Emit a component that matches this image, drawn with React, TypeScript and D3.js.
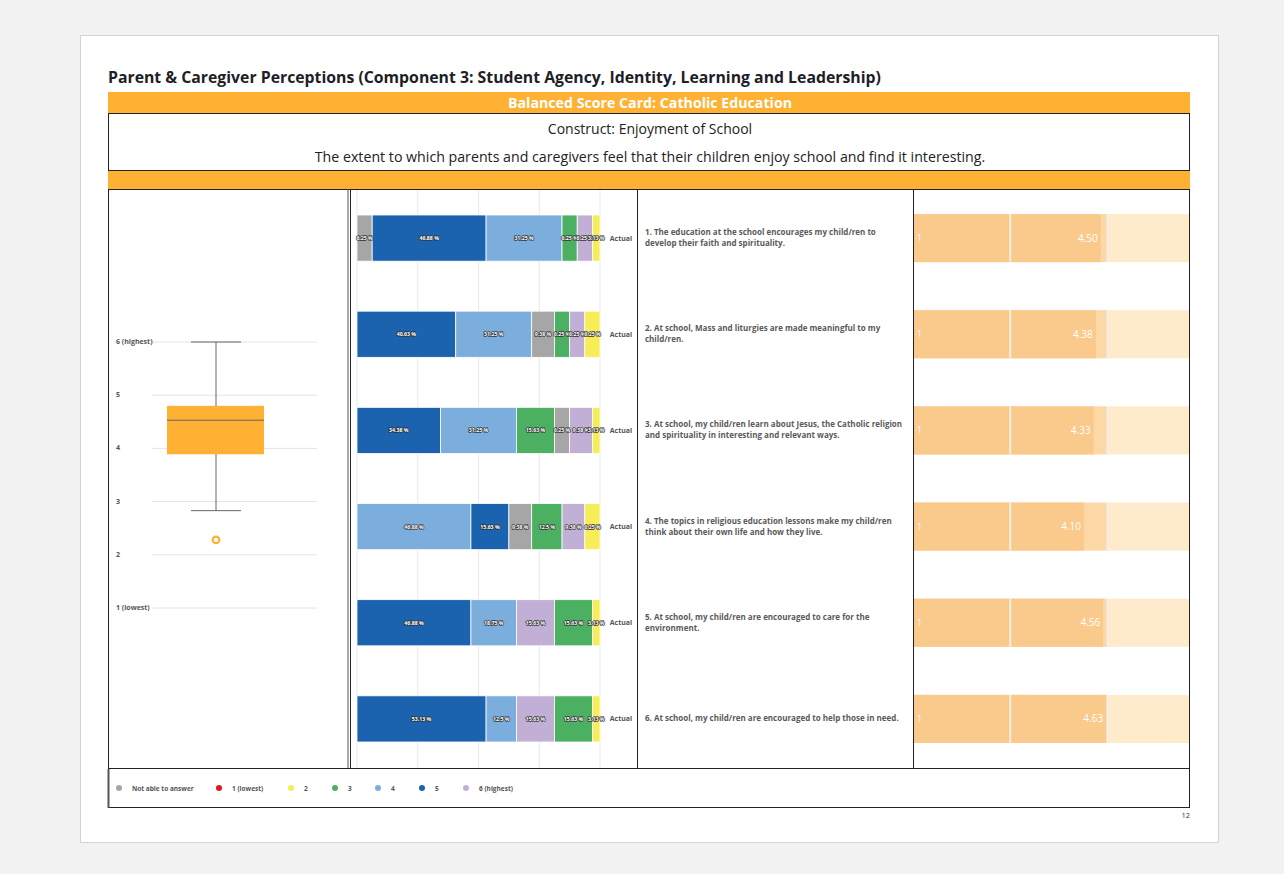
import React from "react";
import * as d3 from "d3";

// response categories (legend order)
const categories = ["Not able to answer", "1 (lowest)", "2", "3", "4", "5", "6 (highest)"];
const catColors = ["#A6A6A6", "#E3151E", "#F7ED57", "#4CB062", "#7BAEDD", "#1B63AE", "#C1AFD6"];

// percentages per question, one array per category
const notAble = [6.25, 9.38, 6.25, 9.38, 0, 0];
const lowest = [0, 0, 0, 0, 0, 0];
const two = [3.13, 6.25, 3.13, 6.25, 3.13, 3.13];
const three = [6.25, 6.25, 15.63, 12.5, 15.63, 15.63];
const four = [31.25, 31.25, 31.25, 46.88, 18.75, 12.5];
const five = [46.88, 40.63, 34.38, 15.63, 46.88, 53.13];
const highest = [6.25, 6.25, 9.38, 9.38, 15.63, 15.63];
const series = [notAble, lowest, two, three, four, five, highest];

// order the segments appear in each row (category indices)
const segmentOrder = [
  [0, 5, 4, 3, 6, 2],
  [5, 4, 0, 3, 6, 2],
  [5, 4, 3, 0, 6, 2],
  [4, 5, 0, 3, 6, 2],
  [5, 4, 6, 3, 2],
  [5, 4, 6, 3, 2],
];

const questions = [
  ["1. The education at the school encourages my child/ren to", "develop their faith and spirituality."],
  ["2. At school, Mass and liturgies are made meaningful to my", "child/ren."],
  ["3. At school, my child/ren learn about Jesus, the Catholic religion", "and spirituality in interesting and relevant ways."],
  ["4. The topics in religious education lessons make my child/ren", "think about their own life and how they live."],
  ["5. At school, my child/ren are encouraged to care for the", "environment."],
  ["6. At school, my child/ren are encouraged to help those in need."],
];
const means = [4.5, 4.38, 4.33, 4.1, 4.56, 4.63];

// box plot of scores
const boxMin = 2.83;
const boxQ1 = 3.89;
const boxMedian = 4.53;
const boxQ3 = 4.8;
const boxMax = 6;
const outliers = [2.28];
const scoreTicks = [1, 2, 3, 4, 5, 6];
const scoreTickLabels = ["1 (lowest)", "2", "3", "4", "5", "6 (highest)"];

const pctTicks = [0, 25, 50, 75, 100];
const bandTicks = [2.33, 4.66];

const FONT = "'Open Sans', 'Noto Sans', sans-serif";
const ORANGE = "#FFB133";

export default function App() {
  const rows = d3.range(questions.length);
  const yRow = d3.scaleBand<number>().domain(rows).range([190, 767]).paddingInner(0.52).paddingOuter(0.26);
  const yRight = d3.scaleBand<number>().domain(rows).range([190, 767]).paddingInner(0.5).paddingOuter(0.25);
  const xPct = d3.scaleLinear().domain([0, 100]).range([357, 600]);
  const xMean = d3.scaleLinear().domain([0, 6.64]).range([913, 1190]);
  const yScore = d3.scaleLinear().domain([1, 6]).range([608, 342]);
  const boxX = 216;

  const stacks = rows.map(r => {
    let acc = 0;
    return segmentOrder[r].map(c => {
      const v = series[c][r];
      const s = { c, v, x0: acc, x1: acc + v };
      acc += v;
      return s;
    });
  });

  const legendDotX = [119, 219, 291, 335, 378, 422, 466];

  return (
    <div style={{ position: "absolute", left: 0, top: 0 }}>
      <svg width={1284} height={874} style={{ display: "block", fontFamily: FONT }}>
        <rect width={1284} height={874} fill="#F2F2F2" />
        <rect x={80.5} y={35.5} width={1138} height={807} fill="#fff" stroke="#D4D4D4" />

        <text x={108} y={83} fontSize={15.8} fontWeight={700} fill="#1E1E28">
          Parent &amp; Caregiver Perceptions (Component 3: Student Agency, Identity, Learning and Leadership)
        </text>

        <rect x={108} y={92} width={1082} height={21} fill={ORANGE} />
        <text x={650} y={108} textAnchor="middle" fontSize={14.2} fontWeight={700} fill="#fff">
          Balanced Score Card: Catholic Education
        </text>
        <rect x={108.5} y={113.5} width={1081} height={57} fill="none" stroke="#222" />
        <text x={650} y={134} textAnchor="middle" fontSize={14} fill="#222">Construct: Enjoyment of School</text>
        <text x={650} y={162} textAnchor="middle" fontSize={14.2} fill="#222">
          The extent to which parents and caregivers feel that their children enjoy school and find it interesting.
        </text>
        <rect x={108} y={171} width={1082} height={18} fill={ORANGE} />

        {/* box plot panel */}
        {scoreTicks.map((t, i) => (
          <g key={t}>
            <line x1={152} x2={317} y1={yScore(t)} y2={yScore(t)} stroke="#E4E4E4" />
            <text x={116} y={yScore(t) + 2} fontSize={7} fontWeight={700} fill="#555">{scoreTickLabels[i]}</text>
          </g>
        ))}
        <line x1={boxX} x2={boxX} y1={yScore(boxMax)} y2={yScore(boxMin)} stroke="#666" />
        <rect x={167} width={97} y={yScore(boxQ3)} height={yScore(boxQ1) - yScore(boxQ3)} fill={ORANGE} />
        <line x1={167} x2={264} y1={yScore(boxMedian)} y2={yScore(boxMedian)} stroke="#666" />
        <line x1={191} x2={241} y1={yScore(boxMax)} y2={yScore(boxMax)} stroke="#666" />
        <line x1={191} x2={241} y1={yScore(boxMin)} y2={yScore(boxMin)} stroke="#666" />
        {outliers.map((o, i) => (
          <circle key={i} cx={boxX} cy={yScore(o)} r={3.3} fill="#fff" stroke={ORANGE} strokeWidth={2.2} />
        ))}

        {/* stacked bars */}
        {pctTicks.map(t => (
          <line key={t} x1={xPct(t)} x2={xPct(t)} y1={190} y2={768} stroke="#E8E8E8" />
        ))}
        {stacks.map((segs, r) => (
          <g key={r}>
            {segs.map(s => (
              <rect key={s.c} x={xPct(s.x0)} y={yRow(r)} width={xPct(s.x1) - xPct(s.x0)} height={yRow.bandwidth()}
                fill={catColors[s.c]} stroke="#fff" strokeWidth={0.8} />
            ))}
            {segs.map(s => (
              <text key={"t" + s.c} x={(xPct(s.x0) + xPct(s.x1)) / 2} y={yRow(r)! + yRow.bandwidth() / 2 + 2}
                textAnchor="middle" fontSize={5.2} fontWeight={700} fill="#fff" stroke="#333" strokeWidth={1.4}
                paintOrder="stroke" strokeLinejoin="round">
                {s.v + " %"}
              </text>
            ))}
            <text x={621} y={yRow(r)! + yRow.bandwidth() / 2 + 2.5} textAnchor="middle" fontSize={7} fontWeight={700} fill="#555">
              Actual
            </text>
          </g>
        ))}

        {/* questions */}
        {questions.map((q, r) => {
          const cy = yRow(r)! + yRow.bandwidth() / 2;
          const top = cy - (q.length - 1) * 5.5 + 2.5;
          return (
            <text key={r} x={645} fontSize={8} fontWeight={700} fill="#5A5A5A">
              {q.map((line, i) => (
                <tspan key={i} x={645} y={top + i * 11}>{line}</tspan>
              ))}
            </text>
          );
        })}

        {/* mean bars */}
        {rows.map(r => (
          <g key={r}>
            <rect x={xMean(0)} y={yRight(r)} width={xMean(bandTicks[1]) - xMean(0)} height={yRight.bandwidth()} fill="#FBD8A6" />
            <rect x={xMean(bandTicks[1])} y={yRight(r)} width={1190 - xMean(bandTicks[1])} height={yRight.bandwidth()} fill="#FDEBCC" />
            <rect x={xMean(0)} y={yRight(r)} width={xMean(means[r]) - xMean(0)} height={yRight.bandwidth()} fill="#F9CA8B" />
            {bandTicks.map(t => (
              <line key={t} x1={xMean(t)} x2={xMean(t)} y1={yRight(r)} y2={yRight(r)! + yRight.bandwidth()} stroke="#F4EEE6" strokeWidth={2} />
            ))}
            <text x={917} y={yRight(r)! + yRight.bandwidth() / 2 + 3} fontSize={8.5} fill="#fff">1</text>
            <text x={xMean(means[r]) - 3} y={yRight(r)! + yRight.bandwidth() / 2 + 3.5} textAnchor="end" fontSize={10} fill="#fff">
              {means[r].toFixed(2)}
            </text>
          </g>
        ))}

        {/* panel frame */}
        <rect x={108.5} y={189.5} width={1081} height={579} fill="none" stroke="#222" />
        <line x1={348} x2={348} y1={189} y2={769} stroke="#555" />
        <line x1={350.5} x2={350.5} y1={189} y2={769} stroke="#222" />
        <line x1={637.5} x2={637.5} y1={189} y2={769} stroke="#222" />
        <line x1={913.5} x2={913.5} y1={189} y2={769} stroke="#222" />

        {/* legend */}
        <rect x={108.5} y={768.5} width={1081} height={39} fill="none" stroke="#222" />
        <line x1={108.5} x2={108.5} y1={769} y2={808} stroke="#555" strokeWidth={2} />
        {categories.map((c, i) => (
          <g key={c}>
            <circle cx={legendDotX[i]} cy={788} r={3} fill={catColors[i]} />
            <text x={legendDotX[i] + 13} y={790.5} fontSize={6.5} fontWeight={700} fill="#555">{c}</text>
          </g>
        ))}

        <text x={1190} y={818} textAnchor="end" fontSize={7.5} fill="#333">12</text>
      </svg>
    </div>
  );
}
